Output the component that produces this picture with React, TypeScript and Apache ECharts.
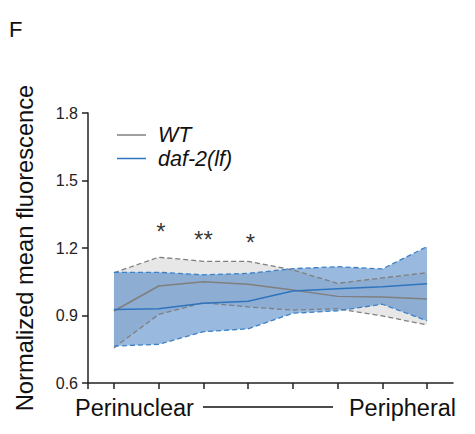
import React, { useEffect, useRef } from "react";
import * as echarts from "echarts";

const bins = [1, 2, 3, 4, 5, 6, 7, 8];
const wtMean = [0.92, 1.031, 1.05, 1.039, 1.013, 0.985, 0.982, 0.973];
const wtUpper = [1.09, 1.159, 1.141, 1.141, 1.102, 1.043, 1.067, 1.09];
const wtLower = [0.756, 0.905, 0.957, 0.938, 0.924, 0.93, 0.898, 0.858];
const dafMean = [0.927, 0.93, 0.954, 0.963, 1.009, 1.019, 1.028, 1.041];
const dafUpper = [1.092, 1.092, 1.081, 1.087, 1.108, 1.117, 1.107, 1.206];
const dafLower = [0.764, 0.772, 0.828, 0.841, 0.91, 0.921, 0.95, 0.877];
const starBins = [2.05, 3, 4.05];
const starLevels = [1.274, 1.24, 1.224];
const starLabels = ["*", "**", "*"];
const yTicks = [0.6, 0.9, 1.2, 1.5, 1.8];
const seriesNames = ["WT", "daf-2(lf)"];

const FONT = "Liberation Sans, Arial, Helvetica, sans-serif";
const GRAY = "#7f7f7f";
const BLUE = "#2f74bf";
const BLUE_DASH = "#3a80c8";

const pairs = (ys: number[]) => bins.map((x, i) => [x, ys[i]]);

function bandSeries(lo: number[], hi: number[], fill: string, z: number) {
  return {
    type: "custom",
    z,
    silent: true,
    data: bins.map((x, i) => [x, lo[i], hi[i]]),
    encode: { x: 0, y: [1, 2] },
    renderItem: (params: any, api: any) => {
      if (params.dataIndex !== 0) return null;
      const top = bins.map((x, i) => api.coord([x, hi[i]]));
      const bottom = bins.map((x, i) => api.coord([x, lo[i]])).reverse();
      return {
        type: "polygon",
        shape: { points: [...top, ...bottom] },
        style: { fill, stroke: "none" },
      };
    },
  };
}

export default function App() {
  const ref = useRef<HTMLDivElement>(null);
  useEffect(() => {
    document.body.style.margin = "0";
    if (!ref.current) return;
    const chart = echarts.init(ref.current, null, { renderer: "svg" });
    const dashed = (ys: number[], color: string, z: number) => ({
      type: "line",
      data: pairs(ys),
      symbol: "none",
      silent: true,
      z,
      lineStyle: { color, width: 1.3, type: [5, 3] },
    });
    chart.setOption({
      animation: false,
      textStyle: { fontFamily: FONT },
      grid: { left: 88, right: 22, top: 113, bottom: 51 },
      legend: {
        data: seriesNames,
        orient: "vertical",
        left: 112,
        top: 119,
        itemWidth: 29,
        itemHeight: 1.5,
        itemGap: 1.5,
        icon: "rect",
        textStyle: {
          fontSize: 21.5,
          lineHeight: 20,
          fontStyle: "italic",
          color: "#111",
          fontFamily: FONT,
          padding: [0, 0, 0, 7],
        },
      },
      xAxis: {
        type: "value",
        min: 0.42,
        max: 8.58,
        axisLine: { lineStyle: { color: "#222", width: 1.5 } },
        axisTick: { show: true, length: 6, lineStyle: { color: "#222", width: 1.5 }, customValues: [0.42, ...bins] },
        axisLabel: { show: false },
        splitLine: { show: false },
      },
      yAxis: {
        type: "value",
        min: 0.6,
        max: 1.8,
        interval: 0.3,
        name: "Normalized mean fluorescence",
        nameLocation: "middle",
        nameGap: 51,
        nameTextStyle: { fontSize: 23.7, color: "#111", fontFamily: FONT },
        axisLine: { show: true, lineStyle: { color: "#222", width: 1.5 } },
        axisTick: { show: true, length: 6, lineStyle: { color: "#222", width: 1.5 }, customValues: yTicks },
        axisLabel: {
          fontSize: 16,
          color: "#222",
          margin: 10,
          customValues: yTicks,
          formatter: (v: number) => v.toFixed(1),
        },
        splitLine: { show: false },
      },
      graphic: [
        { type: "text", left: 9, top: 18, style: { text: "F", fontSize: 22, fill: "#111", fontFamily: FONT } },
        { type: "text", left: 75, top: 396, style: { text: "Perinuclear", fontSize: 23.5, fill: "#111", fontFamily: FONT } },
        { type: "line", shape: { x1: 203, y1: 407, x2: 333, y2: 407 }, style: { stroke: "#111", lineWidth: 1.3 } },
        { type: "text", right: 19, top: 396, style: { text: "Peripheral", fontSize: 23.5, fill: "#111", fontFamily: FONT } },
      ],
      series: [
        bandSeries(wtLower, wtUpper, "#e7e7e7", 1),
        bandSeries(dafLower, dafUpper, "rgba(52,116,190,0.5)", 2),
        dashed(wtUpper, GRAY, 3),
        dashed(wtLower, GRAY, 3),
        dashed(dafUpper, BLUE_DASH, 3),
        dashed(dafLower, BLUE_DASH, 3),
        {
          name: seriesNames[0],
          type: "line",
          data: pairs(wtMean),
          symbol: "none",
          z: 4,
          itemStyle: { color: GRAY },
          lineStyle: { color: GRAY, width: 1.5 },
        },
        {
          name: seriesNames[1],
          type: "line",
          data: pairs(dafMean),
          symbol: "none",
          z: 4,
          itemStyle: { color: BLUE },
          lineStyle: { color: BLUE, width: 1.5 },
        },
        {
          type: "scatter",
          symbolSize: 2,
          itemStyle: { color: "rgba(0,0,0,0)" },
          z: 5,
          silent: true,
          label: {
            show: true,
            position: "inside",
            fontSize: 24,
            color: "#000",
            fontFamily: FONT,
            formatter: (p: any) => starLabels[p.dataIndex],
          },
          data: starBins.map((x, i) => [x, starLevels[i]]),
        },
      ],
    });
    return () => chart.dispose();
  }, []);
  return <div ref={ref} style={{ width: 475, height: 434 }} />;
}
